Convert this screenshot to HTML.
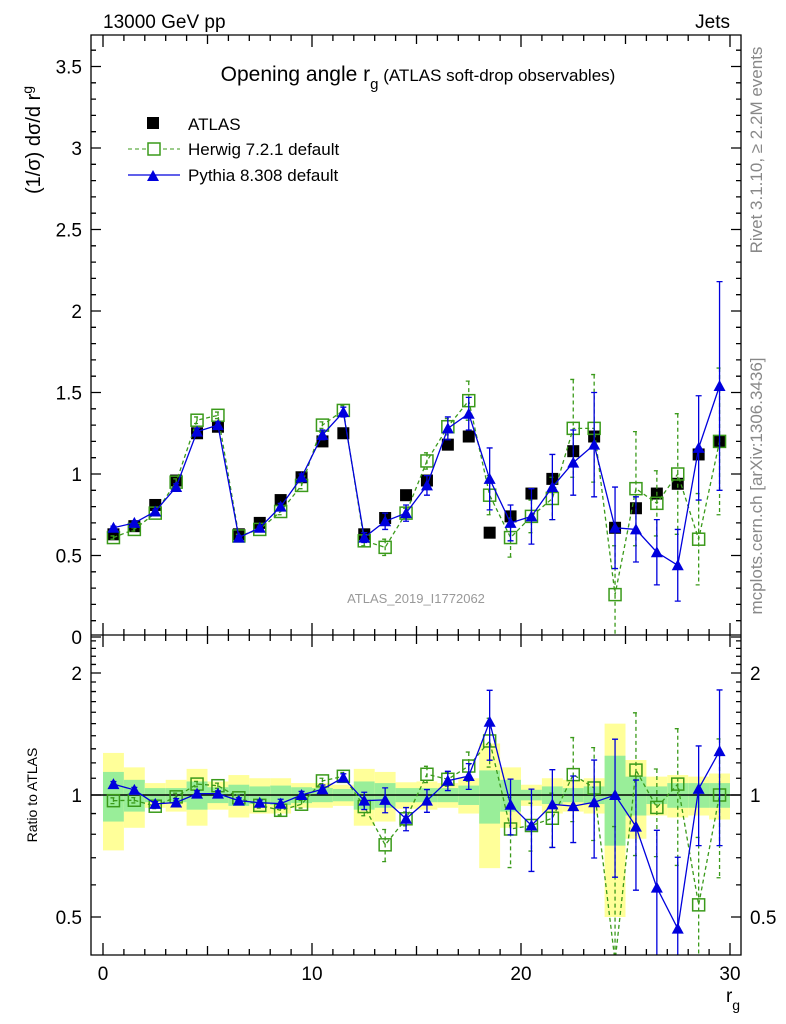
<!DOCTYPE html>
<html><head><meta charset="utf-8"><style>
html,body{margin:0;background:#fff;overflow:hidden;width:786px;height:1024px}
svg{display:block;font-family:"Liberation Sans",sans-serif}
</style></head><body>
<svg id="c" width="786" height="1024" viewBox="0 0 786 1024" xmlns="http://www.w3.org/2000/svg">
<rect width="786" height="1024" fill="#fff"/>
<g id="bands"></g><g id="grid"></g><g id="marks"></g><g id="axes"></g>
<text x="103" y="28" font-size="19">13000 GeV pp</text>
<text x="730" y="28" font-size="19" text-anchor="end">Jets</text>
<text x="418" y="81" font-size="21" text-anchor="middle">Opening angle r<tspan font-size="15" dy="8">g</tspan><tspan dy="-8" font-size="17"> (ATLAS soft-drop observables)</tspan></text>
<text transform="translate(40,140) rotate(-90)" font-size="20" text-anchor="middle">(1/σ) dσ/d r<tspan font-size="14" dy="-8">g</tspan></text>
<text transform="translate(37,795) rotate(-90)" font-size="14" text-anchor="middle">Ratio to ATLAS</text>
<text x="733" y="1002" font-size="19" text-anchor="middle">r<tspan font-size="14" dy="8">g</tspan></text>
<text transform="translate(762,150) rotate(-90)" font-size="17" fill="#888" text-anchor="middle">Rivet 3.1.10, ≥ 2.2M events</text>
<text transform="translate(762,486) rotate(-90)" font-size="17" fill="#888" text-anchor="middle">mcplots.cern.ch [arXiv:1306.3436]</text>
<text x="416" y="603" font-size="13" fill="#999" text-anchor="middle">ATLAS_2019_I1772062</text>
<g>
<rect x="147" y="117" width="12" height="12" fill="#000"/>
<text x="188" y="130" font-size="17">ATLAS</text>
<line x1="128" y1="149" x2="180" y2="149" stroke="#3a9a1a" stroke-dasharray="4,3"/>
<rect x="148" y="143" width="12" height="12" fill="#fff" stroke="#3a9a1a" stroke-width="1.5"/>
<text x="188" y="155" font-size="17">Herwig 7.2.1 default</text>
<line x1="128" y1="175" x2="180" y2="175" stroke="#0000dd" stroke-width="1.3"/>
<path d="M147,181 L159,181 L153,170 Z" fill="#0000dd"/>
<text x="188" y="181" font-size="17">Pythia 8.308 default</text>
</g>
</svg>
<script>
const bins=[0.5,1.5,2.5,3.5,4.5,5.5,6.5,7.5,8.5,9.5,10.5,11.5,12.5,13.5,14.5,15.5,16.5,17.5,18.5,19.5,20.5,21.5,22.5,23.5,24.5,25.5,26.5,27.5,28.5,29.5];
const atlas=[0.63,0.68,0.81,0.96,1.25,1.29,0.63,0.70,0.84,0.98,1.20,1.25,0.63,0.73,0.87,0.96,1.18,1.23,0.64,0.74,0.88,0.97,1.14,1.23,0.67,0.79,0.88,0.94,1.12,1.20];
const atlasTot=[0.27,0.17,0.07,0.09,0.16,0.08,0.12,0.1,0.1,0.07,0.07,0.06,0.16,0.14,0.075,0.08,0.07,0.1,0.34,0.17,0.06,0.1,0.09,0.1,0.5,0.22,0.11,0.12,0.11,0.13];
const atlasStat=[0.14,0.09,0.04,0.04,0.08,0.045,0.06,0.05,0.055,0.045,0.04,0.035,0.08,0.07,0.04,0.04,0.04,0.055,0.15,0.09,0.03,0.05,0.04,0.05,0.25,0.11,0.05,0.07,0.07,0.07];
const herwig=[0.61,0.66,0.76,0.95,1.33,1.36,0.62,0.66,0.77,0.93,1.30,1.39,0.59,0.55,0.76,1.08,1.29,1.45,0.87,0.61,0.74,0.85,1.28,1.28,0.26,0.91,0.82,1.00,0.60,1.20];
const herwigErr=[0.01,0.01,0.01,0.02,0.02,0.02,0.01,0.01,0.02,0.02,0.02,0.03,0.03,0.05,0.03,0.05,0.05,0.12,0.12,0.12,0.1,0.13,0.3,0.33,0.3,0.35,0.2,0.37,0.28,0.45];
const pythia=[0.67,0.70,0.77,0.92,1.26,1.30,0.61,0.67,0.80,0.98,1.24,1.38,0.61,0.71,0.76,0.93,1.28,1.37,0.97,0.70,0.74,0.92,1.07,1.18,0.67,0.66,0.52,0.44,1.16,1.54];
const pythiaErr=[0.01,0.01,0.01,0.02,0.02,0.02,0.01,0.01,0.02,0.02,0.03,0.03,0.03,0.05,0.05,0.06,0.07,0.1,0.19,0.11,0.17,0.2,0.2,0.32,0.25,0.2,0.2,0.22,0.32,0.64];
const yTicks=[0,0.5,1,1.5,2,2.5,3,3.5];
const yTickLabels=["0","0.5","1","1.5","2","2.5","3","3.5"];
const rTicks=[0.5,1,2];
const xTicks=[0,10,20,30];

const L=91,R=741,T=35,MB=635,RB=955;
const X=v=>103+v*(730-103)/30;
const Y=v=>637-v*163;
const RY=r=>795-122*Math.log2(r);
const NS="http://www.w3.org/2000/svg";
function mk(tag,at,parent){const e=document.createElementNS(NS,tag);for(const k in at)e.setAttribute(k,at[k]);document.getElementById(parent).appendChild(e);return e;}
const HW=X(1)-X(0);

bins.forEach((b,i)=>{
  let y1=RY(1+atlasTot[i]),y2=Math.min(RB,RY(Math.max(0.01,1-atlasTot[i])));
  let e=mk('rect',{x:X(b)-HW/2,y:y1,width:HW,height:y2-y1,fill:'#ffff99'},'bands');
  
  
  y1=RY(1+atlasStat[i]);y2=RY(1-atlasStat[i]);
  e=mk('rect',{x:X(b)-HW/2,y:y1,width:HW,height:y2-y1,fill:'#99ee99'},'bands');
  
  
});
let ln=mk('line',{x1:L,x2:R,y1:RY(1),y2:RY(1),stroke:'#000','stroke-width':1.5},'bands');



function clipY(v,lo,hi){return Math.max(lo,Math.min(hi,v));}
function series(vals,errs,color,dash,marker,name,ratio){
  const yf=ratio?(i,v)=>RY(v/atlas[i]):(i,v)=>Y(v);
  const lo=ratio?MB:T, hi=ratio?RB:MB;
  let d='';
  bins.forEach((b,i)=>{
    const v=Math.max(vals[i],0.001);
    d+=(i?'L':'M')+X(b)+','+clipY(yf(i,v),lo,hi+30);
  });
  const g=mk('g',{},'marks');
  
  
  g.setAttribute('clip-path',ratio?'url(#clipR)':'url(#clipM)');
  const p=document.createElementNS(NS,'path');
  p.setAttribute('d',d);p.setAttribute('fill','none');p.setAttribute('stroke',color);p.setAttribute('stroke-width',1.3);
  if(dash)p.setAttribute('stroke-dasharray','4,3');
  
  
  g.appendChild(p);
  bins.forEach((b,i)=>{
    const x=X(b),y=yf(i,vals[i]);
    const ya=clipY(yf(i,vals[i]+errs[i]),lo-5,hi+5),yb=clipY(yf(i,Math.max(0.01,vals[i]-errs[i])),lo-5,hi+5);
    const eb=document.createElementNS(NS,'path');
    eb.setAttribute('d',`M${x},${ya}L${x},${yb}M${x-3},${ya}L${x+3},${ya}M${x-3},${yb}L${x+3},${yb}`);
    eb.setAttribute('stroke',color);eb.setAttribute('stroke-width',1.3);
    if(dash)eb.setAttribute('stroke-dasharray','4,3');
    
    
    g.appendChild(eb);
    const m=document.createElementNS(NS,marker==='sq'?'rect':'path');
    const yy=clipY(y,lo-20,hi+20);
    if(marker==='sq'){m.setAttribute('x',x-6);m.setAttribute('y',yy-6);m.setAttribute('width',12);m.setAttribute('height',12);m.setAttribute('fill','none');m.setAttribute('stroke',color);m.setAttribute('stroke-width',1.5);}
    else {m.setAttribute('d',`M${x-6},${yy+5}L${x+6},${yy+5}L${x},${yy-6}Z`);m.setAttribute('fill',color);}
    
    
    g.appendChild(m);
  });
}
const defs=mk('defs',{},'marks');
defs.innerHTML=`<clipPath id="clipM"><rect x="${L}" y="${T}" width="${R-L}" height="${MB-T}"/></clipPath><clipPath id="clipR"><rect x="${L}" y="${MB}" width="${R-L}" height="${RB-MB}"/></clipPath>`;

bins.forEach((b,i)=>{
  const e=mk('rect',{x:X(b)-6,y:Y(atlas[i])-6,width:12,height:12,fill:'#000'},'marks');
  
  
});
series(herwig,herwigErr,'#3a9a1a',true,'sq','herwig',false);
series(pythia,pythiaErr,'#0000dd',false,'tri','pythia',false);
series(herwig,herwigErr,'#3a9a1a',true,'sq','herwig',true);
series(pythia,pythiaErr,'#0000dd',false,'tri','pythia',true);

let a='';
a+=`M${L},${T}H${R}V${RB}H${L}Z M${L},${MB}H${R}`;
for(let v=0;v<=3.69;v+=0.1){const y=Y(v);if(y<T)continue;const maj=Math.abs(v*2-Math.round(v*2))<1e-6;const l=maj?10:5;a+=`M${L},${y}h${l}M${R},${y}h${-l}`;}
for(let v=0;v<=30;v++){const x=X(v);const l=v%10==0?12:(v%5==0?9:6);a+=`M${x},${RB}v${-l}M${x},${MB}v${-l}M${x},${MB}v${l}M${x},${T}v${l}`;}
[0.5,0.6,0.7,0.8,0.9,1,2].forEach(r=>{const y=RY(r);const l=[0.5,1,2].includes(r)?10:5;a+=`M${L},${y}h${l}M${R},${y}h${-l}`;});
for(let r=1.1;r<2.45;r+=0.1){if(Math.abs(r-2)<1e-6)continue;const y=RY(r);a+=`M${L},${y}h5M${R},${y}h-5`;}
const ax=mk('path',{d:a,fill:'none',stroke:'#000','stroke-width':1.3},'axes');


yTicks.forEach((v,i)=>{const t=mk('text',{x:82,y:Y(v)+7,'font-size':19,'text-anchor':'end'},'axes');t.textContent=yTickLabels[i];

});
rTicks.forEach(r=>{[[82,'end'],[750,'start']].forEach(([x,an])=>{const t=mk('text',{x:x,y:RY(r)+7,'font-size':19,'text-anchor':an},'axes');t.textContent=String(r);

});});
xTicks.forEach(v=>{const t=mk('text',{x:X(v),y:980,'font-size':19,'text-anchor':'middle'},'axes');t.textContent=String(v);

});
</script>
</body></html>
